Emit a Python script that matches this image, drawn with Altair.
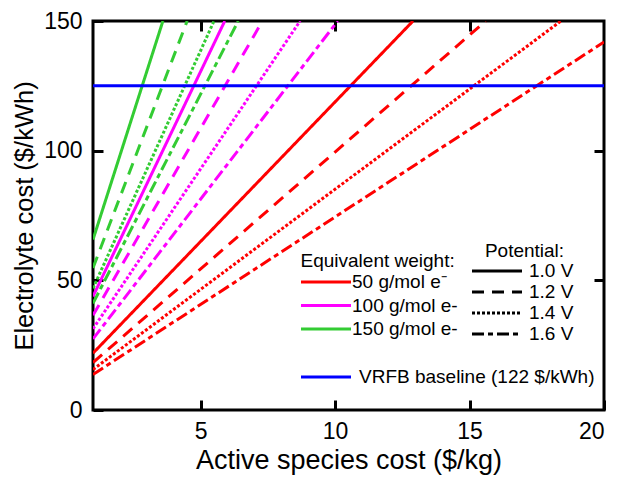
import altair as alt
import pandas as pd

ew_labels = ["50 g/mol e\u207b", "100 g/mol e-", "150 g/mol e-"]
ew_colors = ["#ff0000", "#ff00ff", "#33cc33"]
pot_labels = ["1.0 V", "1.2 V", "1.4 V", "1.6 V"]

# start of every line (x = 1 $/kg)
x_start = [1, 1, 1, 1]
y_start_50 = [21.9, 18.3, 15.6, 13.7]
y_start_100 = [43.8, 36.5, 31.3, 27.4]
y_start_150 = [65.7, 54.8, 46.9, 41.1]
# end of every line (top border or right border)
x_end_50 = [12.9, 15.6, 18.4, 20.0]
y_end_50 = [150, 150, 150, 141.9]
x_end_100 = [5.9, 7.3, 8.7, 10.1]
y_end_100 = [150, 150, 150, 150]
x_end_150 = [3.6, 4.5, 5.5, 6.4]
y_end_150 = [150, 150, 150, 150]

baseline_label = "VRFB baseline (122 $/kWh)"
baseline_x = [1, 20]
baseline_y = [125, 125]

x_ticks = [5, 10, 15, 20]
y_ticks = [0, 50, 100, 150]

rows = []
starts = [y_start_50, y_start_100, y_start_150]
ends_x = [x_end_50, x_end_100, x_end_150]
ends_y = [y_end_50, y_end_100, y_end_150]
for i, ew in enumerate(ew_labels):
    for j, pot in enumerate(pot_labels):
        sid = f"{i}-{j}"
        rows.append({"x": x_start[j], "y": starts[i][j], "ew": ew, "pot": pot, "sid": sid})
        rows.append({"x": ends_x[i][j], "y": ends_y[i][j], "ew": ew, "pot": pot, "sid": sid})
df = pd.DataFrame(rows)
base_df = pd.DataFrame({"x": baseline_x, "y": baseline_y, "name": [baseline_label] * 2})

FONT = "Liberation Sans"
xscale = alt.Scale(domain=[1, 20], nice=False, zero=False)
yscale = alt.Scale(domain=[0, 150], nice=False)

sym = "M-1.8,0H8.2"
sym_pot = "M-2.6,0H7.4"

lines = alt.Chart(df).mark_line(strokeWidth=3, clip=True).encode(
    x=alt.X("x:Q", scale=xscale, axis=alt.Axis(
        orient="bottom", values=x_ticks, title="Active species cost ($/kg)",
        offset=-10, tickSize=10, labelPadding=10, titlePadding=4, domain=False,
        labelFontSize=23, titleFontSize=27)),
    y=alt.Y("y:Q", scale=yscale, axis=alt.Axis(
        orient="left", values=y_ticks, title="Electrolyte cost ($/kWh)",
        offset=-10, tickSize=10, labelPadding=11, titlePadding=6, domain=False,
        labelFontSize=23, titleFontSize=25.5)),
    color=alt.Color("ew:N", sort=ew_labels,
                    scale=alt.Scale(domain=ew_labels, range=ew_colors),
                    legend=alt.Legend(title="Equivalent weight:", orient="none",
                                      legendX=207.5, legendY=231, symbolType=sym,
                                      symbolSize=100, symbolStrokeWidth=3,
                                      labelOffset=32.5, rowPadding=3.5, titlePadding=1.5,
                                      padding=0)),
    strokeDash=alt.StrokeDash("pot:N", sort=pot_labels,
                              scale=alt.Scale(domain=pot_labels,
                                              range=[[1, 0], [12, 8], [3, 2], [12, 4, 5, 4]]),
                              legend=alt.Legend(title="Potential:", orient="none",
                                                legendX=382.5, legendY=221, symbolType=sym_pot,
                                                symbolSize=100, symbolStrokeWidth=3,
                                                symbolStrokeColor="black",
                                                labelOffset=34.5, rowPadding=1,
                                                titlePadding=0.5, titleAnchor="middle",
                                                padding=0)),
    detail="sid:N",
)

baseline = alt.Chart(base_df).mark_line(strokeWidth=3).encode(
    x=alt.X("x:Q", scale=xscale, axis=alt.Axis(
        orient="top", values=[5, 10, 15], labels=False, title=None,
        offset=-10, tickSize=10, domain=False)),
    y=alt.Y("y:Q", scale=yscale, axis=alt.Axis(
        orient="right", values=[50, 100], labels=False, title=None,
        offset=-10, tickSize=10, domain=False)),
    color=alt.Color("name:N", scale=alt.Scale(domain=[baseline_label], range=["#0000ff"]),
                    legend=alt.Legend(title=None, orient="none", legendX=207.5, legendY=346.5,
                                      symbolType=sym, symbolSize=100, symbolStrokeWidth=3,
                                      labelOffset=39.5, padding=0)),
)

chart = alt.layer(lines, baseline).resolve_scale(color="independent").resolve_axis(
    x="independent", y="independent"
).properties(
    width=511, height=389,
    padding={"left": 85, "top": 13, "right": 5, "bottom": 65},
    autosize=alt.AutoSizeParams(type="none"),
).configure(font=FONT).configure_view(
    stroke="black", strokeWidth=3
).configure_axis(
    grid=False, tickColor="black", tickWidth=3, labelColor="black", titleColor="black",
    titleFontWeight="normal", labelFont=FONT, titleFont=FONT
).configure_legend(
    titleFontSize=19, labelFontSize=19, titleFontWeight="normal", titleColor="black",
    labelColor="black", labelFont=FONT, titleFont=FONT, labelLimit=0
)

chart.save("out.html", embed_options={"renderer": "svg", "actions": False})
